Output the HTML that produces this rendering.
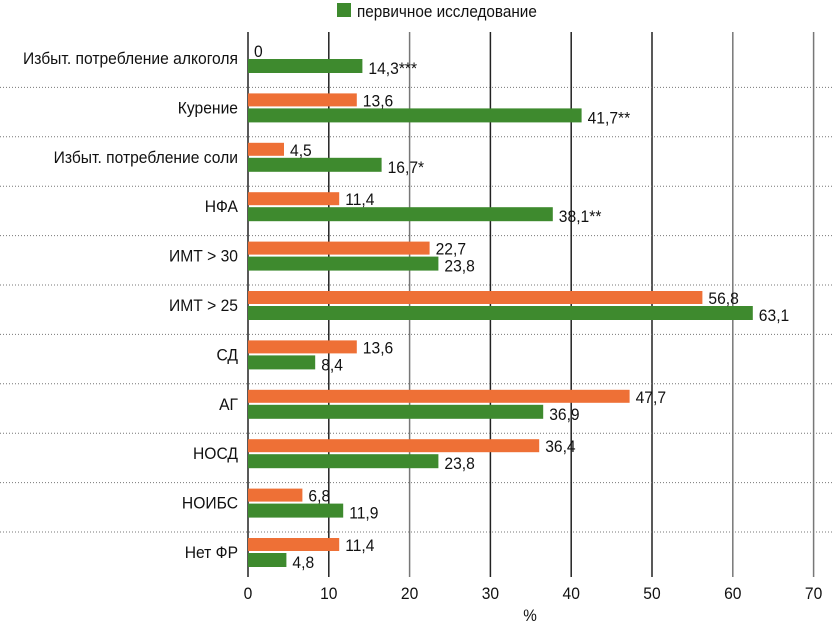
<!DOCTYPE html>
<html><head><meta charset="utf-8"><style>
html,body{margin:0;padding:0;background:#fff}
svg text{font-family:"Liberation Sans",sans-serif;font-size:17px;fill:#111}
</style></head><body>
<svg id="chart" width="832" height="624" viewBox="0 0 832 624" xmlns="http://www.w3.org/2000/svg">
<rect x="337" y="3" width="14" height="14" fill="#3e8a2e"/>
<text transform="translate(357,17) scale(0.9,1)">первичное исследование</text>
<g id="grid"></g><g id="bars"></g><g id="labels"></g>
<text transform="translate(530,621) scale(0.9,1)" text-anchor="middle">%</text>
</svg>
<script>
const categories=["Избыт. потребление алкоголя","Курение","Избыт. потребление соли","НФА","ИМТ > 30","ИМТ > 25","СД","АГ","НОСД","НОИБС","Нет ФР"];
const orangeValues=[0,13.6,4.5,11.4,22.7,56.8,13.6,47.7,36.4,6.8,11.4];
const greenValues=[14.3,41.7,16.7,38.1,23.8,63.1,8.4,36.9,23.8,11.9,4.8];
const orangeLabels=["0","13,6","4,5","11,4","22,7","56,8","13,6","47,7","36,4","6,8","11,4"];
const greenLabels=["14,3***","41,7**","16,7*","38,1**","23,8","63,1","8,4","36,9","23,8","11,9","4,8"];
const ticks=[0,10,20,30,40,50,60,70];
const NS="http://www.w3.org/2000/svg";
const x0=248,scale=8.0,rowTop=38,pitch=49.4,sx=0.92;
const xs=v=>x0+v*scale;
function mk(tag,attrs,parent){const e=document.createElementNS(NS,tag);for(const k in attrs)e.setAttribute(k,attrs[k]);parent.appendChild(e);return e;}
function txt(x,y,anchor,parent){return mk('text',{transform:'translate('+x+','+y+') scale('+sx+',1)','text-anchor':anchor},parent);}
const grid=document.getElementById('grid'),bars=document.getElementById('bars'),labels=document.getElementById('labels');
ticks.forEach(t=>{
  const l=mk('line',{x1:x0+t*8.08,x2:x0+t*8.08,y1:32,y2:577,stroke:(t===20||t===60||t===70)?'#777':'#222','stroke-width':1.5},grid);
  
  
  const tx=txt(x0+t*8.08,599,'middle',grid);
  tx.textContent=t;
  
  
});
for(let i=0;i<categories.length-1;i++){
  const y=rowTop+pitch*(i+1);
  const s=mk('line',{x1:0,x2:832,y1:y,y2:y,stroke:'#777','stroke-dasharray':'1,2'},grid);
  
  
}
categories.forEach((c,i)=>{
  const top=rowTop+pitch*i;
  const oy=top+6,gy=top+21;
  const ct=txt(238,top+26,'end',labels);
  ct.textContent=c;
  
  
  const ob=mk('rect',{x:x0,y:oy,width:orangeValues[i]*scale,height:13,fill:'#ee7036'},bars);
  
  
  const gb=mk('rect',{x:x0,y:gy,width:greenValues[i]*scale,height:14,fill:'#3e8a2e'},bars);
  
  
  const ol=txt(xs(orangeValues[i])+6,oy+13,'start',labels);
  ol.textContent=orangeLabels[i];
  
  
  const gl=txt(xs(greenValues[i])+6,gy+15,'start',labels);
  gl.textContent=greenLabels[i];
  
  
});
</script>
</body></html>
